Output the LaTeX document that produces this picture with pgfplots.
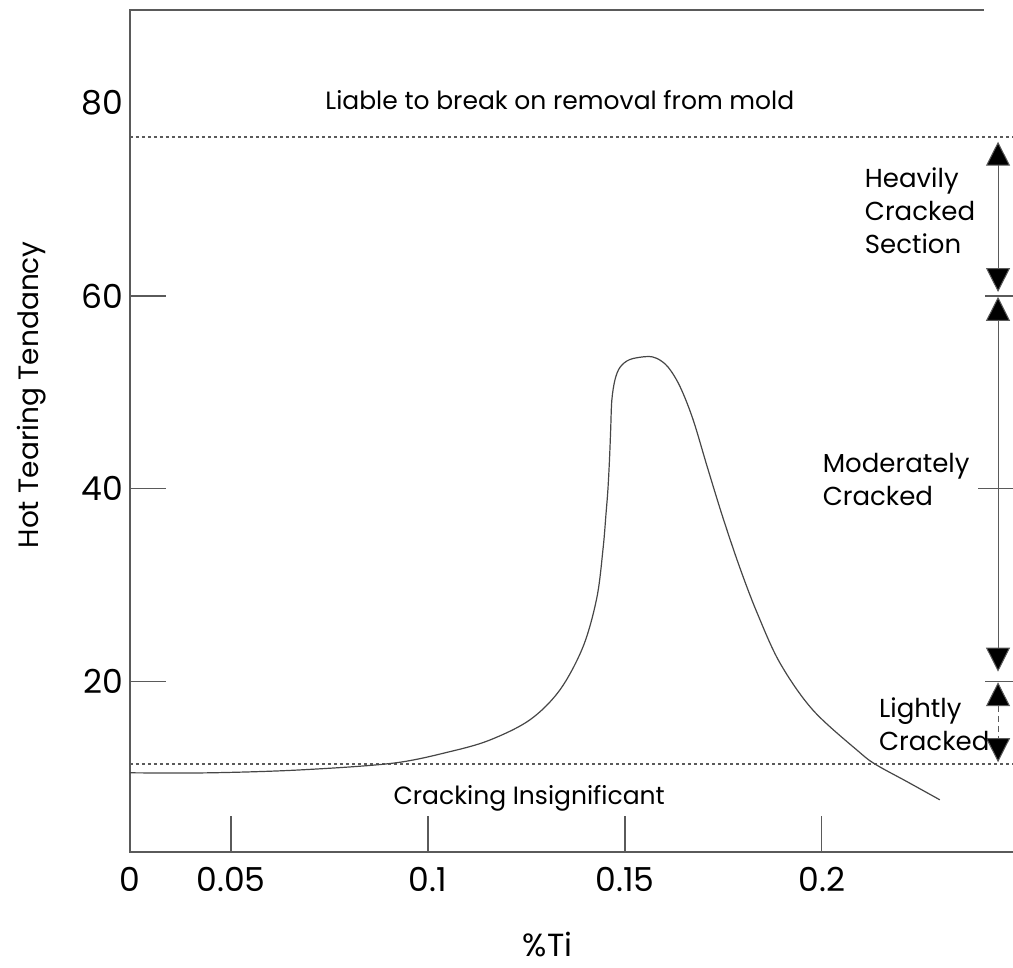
\documentclass[border=0pt]{standalone}
\usepackage{fontspec}
\setmainfont{Poppins}
\usepackage{pgfplots}
\usepackage{pgfplotstable}
\pgfplotsset{compat=1.18}
\usetikzlibrary{arrows.meta}
\definecolor{axgray}{RGB}{90,90,90}
\definecolor{curvegray}{RGB}{70,70,70}

\pgfplotstableread{
x y
0.0243 10.5
0.0446 10.5
0.0675 10.8
0.0911 11.5
0.1056 12.7
0.1157 13.9
0.1259 16.0
0.1335 19.1
0.1394 23.6
0.1429 28.7
0.1445 33.9
0.1452 37.3
0.1457 39.9
0.1461 43.0
0.1464 46.1
0.1467 49.2
0.1475 51.3
0.1488 52.6
0.1513 53.4
0.1556 53.7
0.1582 53.5
0.1610 52.6
0.1640 50.6
0.1673 47.2
0.1709 42.3
0.1749 37.0
0.1792 31.8
0.1836 27.1
0.1894 21.9
0.1978 17.0
0.2097 12.6
0.2140 11.3
0.2216 9.6
0.2300 7.7
}\curvedata

\begin{document}
\begin{tikzpicture}
\begin{axis}[
  name=ax,
  scale only axis,
  width=441.5pt, height=421pt,
  xmin=0.0243, xmax=0.2486,
  ymin=2.28, ymax=89.67,
  clip=false,
  axis line style={draw=none},
  xtick={0.0243,0.05,0.1,0.15,0.2},
  xticklabels={0,0.05,0.1,0.15,0.2},
  ytick={20,40,60},
  yticklabels={20,40,60},
  extra y ticks={80},
  extra y tick labels={80},
  extra y tick style={major tick length=0pt},
  xtick pos=bottom, ytick pos=left,
  tick align=inside,
  major tick length=18pt,
  tick style={axgray, line width=0.7pt},
  ticklabel style={font=\fontsize{16.5}{16.5}\selectfont},
  xticklabel style={yshift=-4pt},
  xlabel={\%Ti},
  ylabel={Hot Tearing Tendancy},
  xlabel style={at={(axis description cs:0.473,0)}, anchor=center, yshift=-46.5pt, font=\fontsize{16}{16}\selectfont},
  ylabel style={at={(axis description cs:-0.111,0.543)}, anchor=center, font=\fontsize{14}{14}\selectfont},
]
% frame
\draw[axgray, line width=0.8pt] (rel axis cs:1,0) -- (rel axis cs:0,0) -- (rel axis cs:0,1) -- (axis cs:0.2413,89.67);
% boundary lines
\draw[axgray, line width=0.7pt, dash pattern=on 1.5pt off 1.5pt] (axis cs:0.0243,76.5) -- (axis cs:0.2486,76.5);
\draw[axgray, line width=0.7pt, dash pattern=on 1.5pt off 1.5pt] (axis cs:0.0243,11.4) -- (axis cs:0.2486,11.4);
% curve
\addplot[curvegray, line width=0.6pt, smooth, tension=0.55] table[x=x,y=y] {\curvedata};
% right ticks
\draw[axgray, line width=0.7pt] (axis cs:0.2415,60) -- (axis cs:0.2486,60);
\draw[axgray, line width=0.7pt] (axis cs:0.2398,40) -- (axis cs:0.2486,40);
\draw[axgray, line width=0.7pt] (axis cs:0.2415,20) -- (axis cs:0.2486,20);
% range arrows
\draw[axgray, line width=0.5pt, {Triangle[width=12pt,length=12pt,fill=black]}-{Triangle[width=12pt,length=12pt,fill=black]}] (axis cs:0.2448,76.0) -- (axis cs:0.2448,60.4);
\draw[axgray, line width=0.5pt, {Triangle[width=12pt,length=12pt,fill=black]}-{Triangle[width=12pt,length=12pt,fill=black]}] (axis cs:0.2448,59.9) -- (axis cs:0.2448,21.0);
\draw[axgray, line width=0.5pt, dash pattern=on 3pt off 2pt, {Triangle[width=12pt,length=12pt,fill=black]}-{Triangle[width=12pt,length=12pt,fill=black]}] (axis cs:0.2448,19.9) -- (axis cs:0.2448,11.6);
% region labels
\node[font=\fontsize{12.5}{12.5}\selectfont] at (axis cs:0.1335,80.3) {Liable to break on removal from mold};
\node[font=\fontsize{12.5}{12.5}\selectfont] at (axis cs:0.1257,7.9) {Cracking Insignificant};
\node[font=\fontsize{13}{16.5}\selectfont, align=left, anchor=west] at (axis cs:0.2092,68.8) {Heavily\\Cracked\\Section};
\node[font=\fontsize{13}{16.5}\selectfont, align=left, anchor=west] at (axis cs:0.1985,40.9) {Moderately\\Cracked};
\node[font=\fontsize{13}{16.5}\selectfont, align=left, anchor=west] at (axis cs:0.2128,15.5) {Lightly\\Cracked};
\end{axis}
\pgfresetboundingbox
\path[use as bounding box] ([shift={(-65pt,-57.5pt)}]ax.south west) rectangle ([shift={(0pt,5pt)}]ax.north east);
\end{tikzpicture}
\end{document}
